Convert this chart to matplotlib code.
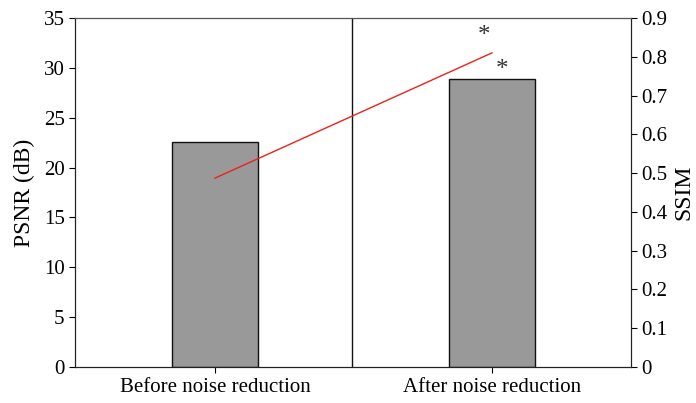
import matplotlib.pyplot as plt

plt.rcParams['font.family'] = ['Liberation Serif', 'DejaVu Serif']

# data
categories = ['Before noise reduction', 'After noise reduction']
psnr = [22.6, 28.9]
ssim = [0.487, 0.81]
stars = ['*', '*']

fig = plt.figure(figsize=(6.96, 4.03), dpi=100)
ax = fig.add_axes([75 / 696, 36 / 403, 556 / 696, 349 / 403])
x = list(range(len(categories)))

ax.bar(x, psnr, width=0.31, color='#999999', edgecolor='#111111', linewidth=1.0, zorder=2)
ax.axvline(0.495, color='#111111', linewidth=1.0, zorder=1)
ax.set_xlim(-0.505, 1.502)
ax.set_ylim(0, 35)
ax.set_yticks(range(0, 36, 5))
ax.set_xticks(x)
ax.set_xticklabels(categories)
ax.set_ylabel('PSNR (dB)', fontsize=17, labelpad=6)
ax.tick_params(axis='both', labelsize=15, direction='out', length=4, width=0.8)
ax.tick_params(axis='x', pad=4)

ax2 = ax.twinx()
ax2.plot(x, ssim, color='#e8231c', linewidth=1.0, zorder=3)
ax2.set_ylim(0, 0.9)
ax2.set_yticks([i / 10 for i in range(10)])
ax2.set_yticklabels(['0'] + ['%.1f' % (i / 10) for i in range(1, 10)])
ax2.set_ylabel('SSIM', fontsize=17, rotation=90, labelpad=4)
ax2.tick_params(axis='y', labelsize=15, direction='out', length=4, width=0.8)

for s in ['left', 'right', 'bottom', 'top']:
    ax.spines[s].set_color('#222222')
    ax2.spines[s].set_color('#222222')
ax2.spines['top'].set_color('#555555')

# significance markers
ax2.text(x[1] - 0.029, 0.854, stars[0], fontsize=18, ha='center', va='center', color='#333333')
ax.text(x[1] + 0.036, psnr[1] + 0.9, stars[1], fontsize=18, ha='center', va='center', color='#333333')

fig.savefig('out.png', dpi=100)
